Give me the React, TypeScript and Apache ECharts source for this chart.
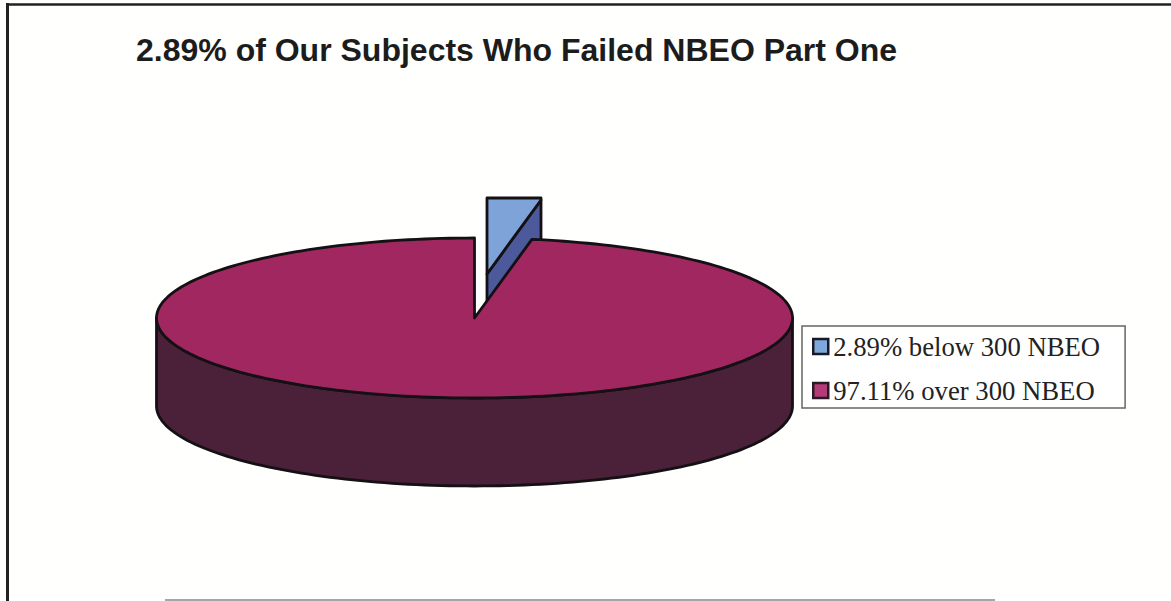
import React, { useEffect, useRef } from "react";
import * as echarts from "echarts";

const titleText = "2.89% of Our Subjects Who Failed NBEO Part One";
const sliceNames = ["2.89% below 300 NBEO", "97.11% over 300 NBEO"];
const sliceValues = [2.89, 97.11];
const total = sliceValues[0] + sliceValues[1];

const pie = { cx: 474.5, cy: 318, rx: 318, ry: 80, depth: 88 };
const explode = { dx: 12.5, dy: -44 };
const clipBox = { right: 541, top: 198 };

type Pt = [number, number];

// Angle is measured clockwise from twelve o'clock on the tilted disc.
const rim = (deg: number, ox = 0, oy = 0): Pt => {
  const a = (deg * Math.PI) / 180;
  return [pie.cx + ox + pie.rx * Math.sin(a), pie.cy + oy - pie.ry * Math.cos(a)];
};

const arc = (from: number, to: number, ox = 0, oy = 0): Pt[] => {
  const n = Math.max(2, Math.ceil(Math.abs(to - from) / 1.5));
  return Array.from({ length: n + 1 }, (_, i) => rim(from + ((to - from) * i) / n, ox, oy));
};

// Sutherland-Hodgman against one half-plane.
const clipEdge = (pts: Pt[], inside: (p: Pt) => boolean, cross: (a: Pt, b: Pt) => Pt): Pt[] => {
  const out: Pt[] = [];
  pts.forEach((p, i) => {
    const q = pts[(i + 1) % pts.length];
    if (inside(p)) out.push(p);
    if (inside(p) !== inside(q)) out.push(cross(p, q));
  });
  return out;
};

// The pulled-out wedge is cut off by the plot area's top and right sides.
const clipToBox = (pts: Pt[]): Pt[] => {
  const right = clipEdge(
    pts,
    (p) => p[0] <= clipBox.right,
    (a, b) => {
      const t = (clipBox.right - a[0]) / (b[0] - a[0]);
      return [clipBox.right, a[1] + (b[1] - a[1]) * t];
    }
  );
  return clipEdge(
    right,
    (p) => p[1] >= clipBox.top,
    (a, b) => {
      const t = (clipBox.top - a[1]) / (b[1] - a[1]);
      return [a[0] + (b[0] - a[0]) * t, clipBox.top];
    }
  );
};

const outline = { stroke: "#141014", lineWidth: 2.8, lineJoin: "round" as const };

const poly = (points: Pt[], fill: string, z2 = 0) => ({
  type: "polygon",
  z2,
  shape: { points },
  style: { fill, ...outline },
});

const renderWedge = (params: any, api: any) => {
  const sweep = (api.value(0) / total) * 360;
  const { dx, dy } = explode;
  const apex: Pt = [pie.cx + dx, pie.cy + dy];
  const end = rim(sweep, dx, dy);
  const top = [apex, ...arc(0, sweep, dx, dy)];
  const side: Pt[] = [apex, end, [end[0], end[1] + pie.depth], [apex[0], apex[1] + pie.depth]];
  return {
    type: "group",
    children: [poly(clipToBox(side), "#4c5a9c", 1), poly(clipToBox(top), "#7ea3d8", 2)],
  };
};

const renderBody = (params: any, api: any) => {
  const startDeg = 360 - (api.value(0) / total) * 360;
  const apex: Pt = [pie.cx, pie.cy];
  const front = arc(90, 270);
  const lower = arc(270, 90, 0, pie.depth);
  const top = [apex, ...arc(startDeg, 360)];
  return {
    type: "group",
    children: [poly([...front, ...lower], "#4a2139", 3), poly(top, "#a12760", 4)],
  };
};

const option = {
  animation: false,
  backgroundColor: "#fffffd",
  title: {
    text: titleText,
    left: 131,
    top: 29,
    textStyle: {
      fontFamily: "Liberation Sans",
      fontWeight: "bold",
      fontSize: 32,
      color: "#1c1c1c",
    },
  },
  legend: {
    left: 802,
    top: 326,
    orient: "vertical",
    padding: [7, 25, 4, 10],
    itemGap: 17,
    itemWidth: 15,
    itemHeight: 15,
    borderColor: "#666",
    borderWidth: 1.5,
    backgroundColor: "#fff",
    textStyle: {
      fontFamily: "Liberation Serif",
      fontSize: 26.7,
      color: "#222",
    },
    data: [
      { name: sliceNames[0], icon: "rect", itemStyle: { color: "#7ea8dc", borderColor: "#1a1a24", borderWidth: 2.5 } },
      { name: sliceNames[1], icon: "rect", itemStyle: { color: "#b53a78", borderColor: "#2a1a24", borderWidth: 2.5 } },
    ],
  },
  graphic: [
    { type: "line", shape: { x1: 7, y1: 4.5, x2: 1171, y2: 4.5 }, style: { stroke: "#222", lineWidth: 2.5 } },
    { type: "line", shape: { x1: 7.5, y1: 3, x2: 7.5, y2: 601 }, style: { stroke: "#222", lineWidth: 3 } },
    { type: "line", shape: { x1: 165, y1: 600, x2: 995, y2: 600 }, style: { stroke: "#888", lineWidth: 1.5 } },
  ],
  series: [
    {
      type: "custom",
      name: sliceNames[0],
      coordinateSystem: "none",
      renderItem: renderWedge,
      data: [[sliceValues[0]]],
      itemStyle: { color: "#7ea8dc" },
      silent: true,
    },
    {
      type: "custom",
      name: sliceNames[1],
      coordinateSystem: "none",
      renderItem: renderBody,
      data: [[sliceValues[1]]],
      itemStyle: { color: "#b53a78" },
      silent: true,
    },
  ],
};

export default function App() {
  const ref = useRef<HTMLDivElement>(null);
  useEffect(() => {
    document.body.style.margin = "0";
    const chart = echarts.init(ref.current!, undefined, { renderer: "svg" });
    chart.setOption(option as any);
    return () => chart.dispose();
  }, []);
  return <div ref={ref} style={{ width: 1171, height: 601 }} />;
}
